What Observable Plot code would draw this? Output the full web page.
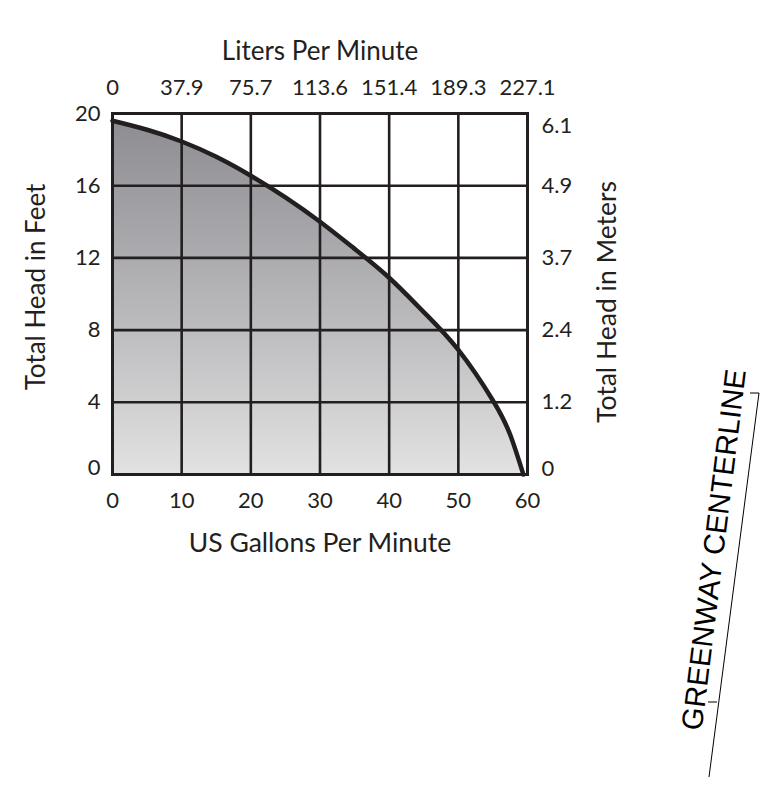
<!DOCTYPE html>
<html>
<head>
<meta charset="utf-8">
<script src="https://cdn.jsdelivr.net/npm/d3@7"></script>
<script src="https://cdn.jsdelivr.net/npm/@observablehq/plot@0.6"></script>
<style>
  html, body { margin: 0; padding: 0; background: #fff; }
  #chart svg { display: block; }
</style>
</head>
<body>
<div id="chart"></div>
<script>
// ---- data ----
const gpm    = [0,    5,    10,    15,   20,    25,    30,   35,   40,   45,  50,  55,  57.5, 59.4];
const headFt = [19.6, 19.1, 18.45, 17.6, 16.55, 15.35, 14.0, 12.5, 10.9, 9.0, 6.9, 4.1, 2.2,  0];

const gpmTicks  = [0, 10, 20, 30, 40, 50, 60];
const lpmLabels = ["0", "37.9", "75.7", "113.6", "151.4", "189.3", "227.1"];
const ftTicks   = [0, 4, 8, 12, 16, 20];
const mLabels   = ["0", "1.2", "2.4", "3.7", "4.9", "6.1"];

const xTitle      = "US Gallons Per Minute";
const xTopTitle   = "Liters Per Minute";
const yTitle      = "Total Head in Feet";
const yRightTitle = "Total Head in Meters";
const note        = "GREENWAY CENTERLINE";

const curveData = gpm.map((g, i) => ({gpm: g, ft: headFt[i]}));
const ink = "#231f20";
const meters = d => mLabels[ftTicks.indexOf(d)];

const svg = Plot.plot({
  width: 762,
  height: 785,
  marginLeft: 112,
  marginRight: 235,
  marginTop: 113,
  marginBottom: 311,
  style: {fontFamily: "Lato, 'Open Sans', sans-serif", fontSize: "22px", color: ink, background: "white"},
  x: {domain: [0, 60]},
  y: {domain: [0, 20]},
  marks: [
    Plot.areaY(curveData, {x: "gpm", y: "ft", fill: "url(#headGradient)", curve: "natural"}),
    Plot.gridX(gpmTicks.slice(1, -1), {stroke: ink, strokeOpacity: 1, strokeWidth: 2.6}),
    Plot.gridY(ftTicks.slice(1, -1), {stroke: ink, strokeOpacity: 1, strokeWidth: 2.6}),
    Plot.frame({stroke: ink, strokeWidth: 3}),
    Plot.lineY(curveData, {x: "gpm", y: "ft", stroke: ink, strokeWidth: 4.5, curve: "natural"}),
    Plot.axisX(gpmTicks, {anchor: "bottom", tickSize: 0, tickPadding: 18, label: null}),
    Plot.axisX(gpmTicks, {anchor: "top", tickSize: 0, tickPadding: 19, label: null,
      tickFormat: d => lpmLabels[gpmTicks.indexOf(d)]}),
    Plot.axisY(ftTicks.slice(1), {anchor: "left", tickSize: 0, tickPadding: 12, label: null}),
    Plot.axisY([0], {anchor: "left", tickSize: 0, tickPadding: 12, label: null, dy: -7}),
    Plot.axisY(ftTicks.slice(1, -1), {anchor: "right", tickSize: 0, tickPadding: 14, label: null, textAnchor: "start",
      tickFormat: meters}),
    Plot.axisY([0], {anchor: "right", tickSize: 0, tickPadding: 14, label: null, textAnchor: "start", dy: -6,
      tickFormat: meters}),
    Plot.axisY([20], {anchor: "right", tickSize: 0, tickPadding: 14, label: null, textAnchor: "start", dy: 12,
      tickFormat: meters}),
    Plot.text([xTitle], {frameAnchor: "bottom", dy: 77, fontSize: 26.5, fill: ink}),
    Plot.text([xTopTitle], {frameAnchor: "top", dy: -72, fontSize: 26, fill: ink}),
    Plot.text([yTitle], {frameAnchor: "left", textAnchor: "middle", dx: -76, dy: -7, rotate: -90, fontSize: 26, fill: ink}),
    Plot.text([yRightTitle], {frameAnchor: "right", textAnchor: "middle", dx: 80, dy: 8, rotate: -90, fontSize: 26.5, fill: ink})
  ]
});

// gradient for the area fill
const s = d3.select(svg);
const grad = s.insert("defs", ":first-child")
  .append("linearGradient")
  .attr("id", "headGradient")
  .attr("x1", 0).attr("y1", 0).attr("x2", 0).attr("y2", 1);
grad.append("stop").attr("offset", "0%").attr("stop-color", "#8d8d92");
grad.append("stop").attr("offset", "55%").attr("stop-color", "#b9b9bc");
grad.append("stop").attr("offset", "100%").attr("stop-color", "#e2e2e2");

// stray annotation at the right of the page
const ann = s.append("g").attr("stroke", "#000").attr("stroke-width", 1).attr("fill", "none");
ann.append("line").attr("x1", 709).attr("y1", 777).attr("x2", 759).attr("y2", 393);
ann.append("line").attr("x1", 750).attr("y1", 393).attr("x2", 759).attr("y2", 393);
ann.append("line").attr("x1", 708).attr("y1", 702).attr("x2", 717).attr("y2", 702);
s.append("text")
  .attr("transform", "translate(716,550) rotate(-83)")
  .attr("text-anchor", "middle")
  .attr("dominant-baseline", "middle")
  .attr("font-family", "'Liberation Sans', Arial, sans-serif")
  .attr("font-size", 29.5)
  .attr("fill", "#000")
  .text(note);

document.getElementById("chart").appendChild(svg);
</script>
</body>
</html>
